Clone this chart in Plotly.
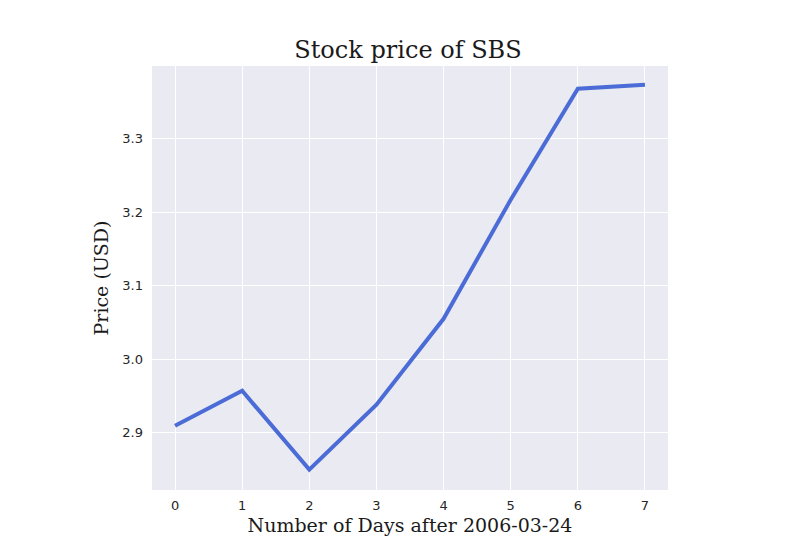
import plotly.graph_objects as go

days = [0, 1, 2, 3, 4, 5, 6, 7]
price = [2.9095, 2.957, 2.8497, 2.938, 3.055, 3.217, 3.368, 3.3735]
x_ticks = [0, 1, 2, 3, 4, 5, 6, 7]
y_ticks = [2.9, 3.0, 3.1, 3.2, 3.3]

fig = go.Figure()
fig.add_trace(go.Scatter(
    x=days, y=price, mode='lines',
    line=dict(color='#4b6cd6', width=4),
    showlegend=False,
))

# page body adds an 8px offset, so margins are shifted by that amount
fig.update_layout(
    width=800, height=550,
    margin=dict(l=144, r=140, t=58, b=68),
    paper_bgcolor='white',
    plot_bgcolor='#eaeaf2',
    title=dict(text='Stock price of SBS', x=0.5, xanchor='center', y=0.924, yanchor='middle',
               font=dict(family='DejaVu Serif', size=24, color='#1a1a1a')),
    font=dict(family='DejaVu Sans', size=13, color='#262626'),
)
fig.update_xaxes(
    range=[-0.343, 7.343], tickvals=x_ticks, showgrid=True, gridcolor='white', gridwidth=1.3,
    zeroline=False, ticks='', ticklabelstandoff=6,
    title=dict(text='Number of Days after 2006-03-24', standoff=6,
               font=dict(family='DejaVu Serif', size=19, color='#1a1a1a')),
)
fig.update_yaxes(
    range=[2.822, 3.399], tickvals=y_ticks, tickformat='.1f', showgrid=True, gridcolor='white',
    gridwidth=1.3, zeroline=False, ticks='', ticklabelstandoff=8,
    title=dict(text='Price (USD)', standoff=8,
               font=dict(family='DejaVu Serif', size=19, color='#1a1a1a')),
)

fig.write_html("out.html")
